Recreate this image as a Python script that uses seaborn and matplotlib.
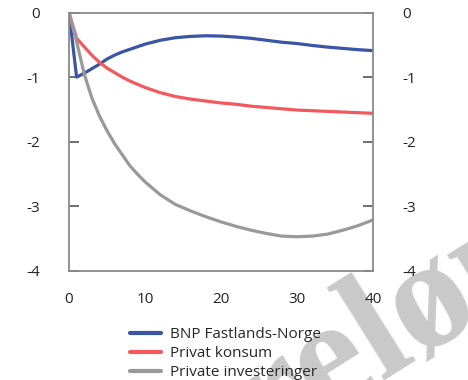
import matplotlib
matplotlib.use("Agg")
import matplotlib.pyplot as plt
import pandas as pd
import seaborn as sns

# Kvartaler etter sjokket
kvartal = [0, 1, 2, 3, 4, 5, 6, 7, 8, 9, 10, 12, 14, 16, 18, 20,
           22, 24, 26, 28, 30, 32, 34, 36, 38, 40]

# Avvik fra referansebanen, prosent
bnp_fastland = [0.0, -1.00, -0.94, -0.87, -0.80, -0.72, -0.66, -0.61, -0.57, -0.53,
                -0.49, -0.43, -0.39, -0.37, -0.36, -0.365, -0.38, -0.40, -0.43,
                -0.46, -0.48, -0.51, -0.535, -0.555, -0.575, -0.59]
privat_konsum = [0.0, -0.40, -0.53, -0.66, -0.77, -0.86, -0.93, -1.00, -1.06, -1.11,
                 -1.16, -1.24, -1.30, -1.34, -1.37, -1.40, -1.42, -1.45, -1.47,
                 -1.49, -1.51, -1.52, -1.53, -1.54, -1.55, -1.56]
private_inv = [0.0, -0.45, -0.95, -1.32, -1.60, -1.83, -2.03, -2.20, -2.37, -2.50,
               -2.62, -2.82, -2.97, -3.07, -3.16, -3.24, -3.31, -3.37, -3.42,
               -3.46, -3.47, -3.46, -3.43, -3.37, -3.30, -3.21]

serier = ["BNP Fastlands-Norge", "Privat konsum", "Private investeringer"]
farger = ["#3a54a6", "#f4585f", "#999999"]

x_ticks = [0, 10, 20, 30, 40]
y_ticks = [-4, -3, -2, -1, 0]

sns.set_theme(style="white")
plt.rcParams["font.family"] = ["Open Sans", "DejaVu Sans"]
plt.rcParams["axes.unicode_minus"] = False

df = pd.concat(
    [pd.DataFrame({"kvartal": kvartal, "verdi": v, "serie": s})
     for s, v in zip(serier, [bnp_fastland, privat_konsum, private_inv])],
    ignore_index=True,
)

W, H = 468, 380
fig = plt.figure(figsize=(W / 100, H / 100), dpi=100)
fig.patch.set_facecolor("white")

# Vannmerke
fig.text(0.258, -0.43, "Foreløpig", rotation=32, rotation_mode="anchor",
         ha="left", va="baseline", fontsize=112, fontweight="bold",
         family="Liberation Serif", color="#c9c9c9", zorder=-5)

ax = fig.add_axes([69 / W, 1 - 271 / H, (373 - 69) / W, (271 - 12.5) / H])
ax.set_facecolor("none")

sns.lineplot(data=df, x="kvartal", y="verdi", hue="serie", hue_order=serier,
             palette=farger, linewidth=2.3, ax=ax, sort=False, legend=True)

ax.set_xlim(0, 40)
ax.set_ylim(-4, 0)
ax.set_xticks(x_ticks)
ax.set_yticks(y_ticks)
ax.set_xticklabels([str(t) for t in x_ticks])
ax.set_yticklabels([str(t) for t in y_ticks])
ax.set_xlabel("")
ax.set_ylabel("")

for sp in ax.spines.values():
    sp.set_visible(True)
    sp.set_color("#8a8a8a")
    sp.set_linewidth(1.3)

ax.tick_params(axis="y", which="both", direction="in", length=7, width=1.2,
               color="#555555", left=True, right=True, labelleft=True,
               labelright=True, pad=21, labelsize=11, labelcolor="#222222")
ax.tick_params(axis="x", length=0, pad=15, labelsize=11, labelcolor="#222222")

sns.move_legend(ax, "upper left", bbox_to_anchor=(130 / W, 1 - 327 / H),
                bbox_transform=fig.transFigure, title=None, frameon=False,
                fontsize=11, handlelength=2.05, handletextpad=0.55,
                labelspacing=0.26, borderpad=0, borderaxespad=0)
for line in ax.get_legend().get_lines():
    line.set_linewidth(3)

fig.savefig("out.png", dpi=100, facecolor="white")
